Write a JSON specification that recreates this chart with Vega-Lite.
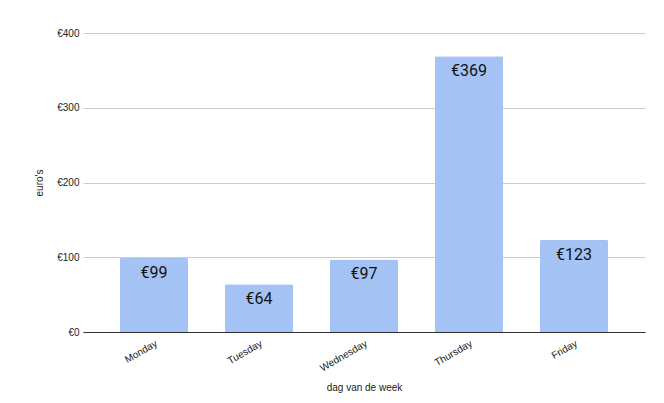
{
  "$schema": "https://vega.github.io/schema/vega-lite/v6.json",
  "width": 562,
  "height": 299,
  "autosize": {"type": "none"},
  "padding": {"left": 83, "top": 33, "right": 19, "bottom": 71},
  "background": "white",
  "config": {
    "view": {"stroke": null},
    "font": "Liberation Sans",
    "axis": {"labelFont": "Liberation Sans", "titleFont": "Liberation Sans", "labelColor": "#222", "titleColor": "#222", "labelFontSize": 10, "titleFontSize": 10, "titleFontWeight": "normal"}
  },
  "data": {
    "values": [
      {"day": "Monday", "euros": 99},
      {"day": "Tuesday", "euros": 64},
      {"day": "Wednesday", "euros": 97},
      {"day": "Thursday", "euros": 369},
      {"day": "Friday", "euros": 123}
    ]
  },
  "encoding": {
    "x": {
      "field": "day",
      "type": "nominal",
      "sort": null,
      "scale": {"paddingInner": 0.352, "paddingOuter": 0.352},
      "axis": {
        "title": "dag van de week",
        "labelAngle": -30,
        "ticks": false,
        "domain": true,
        "domainColor": "#333",
        "domainWidth": 1,
        "labelPadding": 6,
        "titlePadding": 10
      }
    },
    "y": {
      "field": "euros",
      "type": "quantitative",
      "scale": {"domain": [0, 400], "nice": false},
      "axis": {
        "title": "euro's",
        "values": [0, 100, 200, 300, 400],
        "labelExpr": "'€' + datum.value",
        "domain": false,
        "ticks": false,
        "gridColor": "#cccccc",
        "labelPadding": 4,
        "titlePadding": 12
      }
    }
  },
  "layer": [
    {
      "mark": {"type": "bar", "color": "#a4c2f4", "cornerRadiusTopLeft": 1.5, "cornerRadiusTopRight": 1.5}
    },
    {
      "mark": {"type": "text", "baseline": "middle", "dy": 15, "fontSize": 16, "color": "#111", "font": "Roboto", "text": {"expr": "'€' + datum.euros"}}
    }
  ]
}
